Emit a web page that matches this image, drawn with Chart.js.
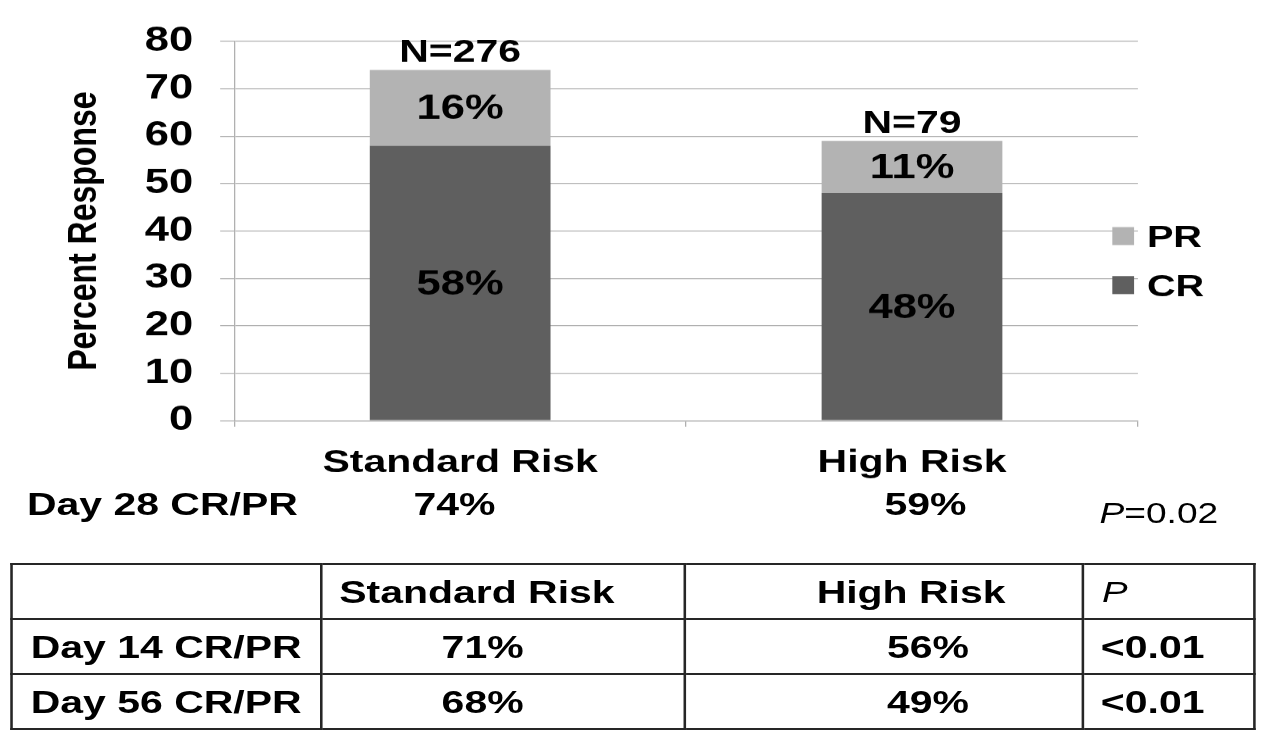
<!DOCTYPE html>
<html>
<head>
<meta charset="utf-8">
<title>Day 28 response by risk group</title>
<script src="https://cdn.jsdelivr.net/npm/chart.js@4.4.0/dist/chart.umd.min.js"></script>
<style>
  html, body { margin: 0; padding: 0; background: #fff; overflow: hidden; }
  /* the source figure is stretched sideways, so the whole stage is drawn 1000px wide and scaled */
  #stage {
    position: absolute; left: 0; top: 0; width: 1000px; height: 751px;
    transform: scaleX(1.28); transform-origin: 0 0;
    font-family: 'Liberation Sans', Arial, sans-serif; color: #000;
  }
  #chart { position: absolute; left: 0; top: 0; }
  .txt { position: absolute; font-size: 32px; font-weight: bold; line-height: 1; white-space: nowrap; }
  .center { transform: translateX(-50%); }
  .plain { font-weight: normal; font-size: 29px; }
  table {
    position: absolute; left: 8px; top: 563px;
    border-collapse: collapse; table-layout: fixed;
    font-size: 32px; font-weight: bold; line-height: 1;
  }
  td { border: 2px solid #262626; height: 53px; padding: 0; vertical-align: middle; white-space: nowrap; }
  td.p-head { font-weight: normal; font-style: italic; font-size: 30px; }
</style>
</head>
<body>
<div id="stage">
  <canvas id="chart" width="1000" height="751"></canvas>
  <div id="day28"></div>
  <table id="summary">
    <colgroup>
      <col style="width:242px"><col style="width:284px"><col style="width:311px"><col style="width:134px">
    </colgroup>
    <tbody></tbody>
  </table>
</div>
<script>
const categories = ['Standard Risk', 'High Risk'];
const crValues = [58, 48];
const prValues = [16, 11];
const nCounts = [276, 79];
const yTicks = [0, 10, 20, 30, 40, 50, 60, 70, 80];

const day28Label = 'Day 28 CR/PR';
const day28Values = [74, 59];
const day28P = '0.02';

const tableHeaders = ['', 'Standard Risk', 'High Risk', 'P'];
const tableRowLabels = ['Day 14 CR/PR', 'Day 56 CR/PR'];
const standardRiskRates = [71, 68];
const highRiskRates = [56, 49];
const tablePValues = ['<0.01', '<0.01'];

const FONT = "'Liberation Sans', Arial, sans-serif";
const GRID = '#b0b0b0';

// percentages inside each segment and N above each stack
const barLabels = {
  id: 'barLabels',
  afterDatasetsDraw(chart) {
    const ctx = chart.ctx;
    ctx.save();
    ctx.fillStyle = '#000';
    ctx.textAlign = 'center';
    chart.data.datasets.forEach((ds, i) => {
      chart.getDatasetMeta(i).data.forEach((bar, j) => {
        const { x, y, base } = bar.getProps(['x', 'y', 'base'], true);
        ctx.font = 'bold 34px ' + FONT;
        ctx.textBaseline = 'middle';
        ctx.fillText(ds.data[j] + '%', x, (y + base) / 2 + 2);
      });
    });
    const topMeta = chart.getDatasetMeta(chart.data.datasets.length - 1);
    topMeta.data.forEach((bar, j) => {
      ctx.font = 'bold 32px ' + FONT;
      ctx.textBaseline = 'alphabetic';
      ctx.fillText('N=' + nCounts[j], bar.x, bar.y - 8);
    });
    ctx.restore();
  }
};

// legend sits over the right end of the grid lines, PR above CR
const sideLegend = {
  id: 'sideLegend',
  afterDraw(chart) {
    const ctx = chart.ctx;
    const items = chart.data.datasets.slice().reverse();
    ctx.save();
    ctx.font = 'bold 31px ' + FONT;
    ctx.textAlign = 'left';
    ctx.textBaseline = 'alphabetic';
    items.forEach((ds, i) => {
      const top = 227 + i * 49;
      ctx.fillStyle = ds.backgroundColor;
      ctx.fillRect(869, top, 17, 18);
      ctx.fillStyle = '#000';
      ctx.fillText(ds.label, 896, top + 20);
    });
    ctx.restore();
  }
};

new Chart(document.getElementById('chart'), {
  type: 'bar',
  data: {
    labels: categories,
    datasets: [
      { label: 'CR', data: crValues, backgroundColor: '#5f5f5f', barPercentage: 0.4, categoryPercentage: 1 },
      { label: 'PR', data: prValues, backgroundColor: '#b3b3b3', barPercentage: 0.4, categoryPercentage: 1 }
    ]
  },
  options: {
    responsive: false,
    devicePixelRatio: 1.28,
    animation: false,
    events: [],
    layout: { padding: { left: 0, top: 39, right: 111, bottom: 270 } },
    plugins: { legend: { display: false }, tooltip: { enabled: false } },
    scales: {
      x: {
        stacked: true,
        ticks: { color: '#000', font: { family: FONT, size: 32, weight: 'bold' }, padding: 17 },
        grid: { drawOnChartArea: false, drawTicks: true, tickLength: 6, color: GRID, offset: true },
        border: { display: true, color: GRID },
        afterFit(scale) { scale.height = 60.5; }
      },
      y: {
        stacked: true,
        min: yTicks[0],
        max: yTicks[yTicks.length - 1],
        ticks: { stepSize: yTicks[1] - yTicks[0], color: '#000', font: { family: FONT, size: 34, weight: 'bold' }, padding: 21 },
        grid: { color: GRID, tickLength: 11 },
        border: { display: true, color: GRID },
        title: {
          display: true, text: 'Percent Response', color: '#000',
          font: { family: FONT, size: 32, weight: 'bold' }, padding: { top: 47, bottom: 0 }
        },
        afterFit(scale) { scale.width = 183; }
      }
    }
  },
  plugins: [barLabels, sideLegend]
});

// Day 28 row under the category labels
const day28 = document.getElementById('day28');
function addText(parent, html, left, top, cls) {
  const d = document.createElement('div');
  d.className = 'txt ' + (cls || '');
  d.style.left = left + 'px';
  d.style.top = top + 'px';
  d.innerHTML = html;
  parent.appendChild(d);
}
addText(day28, day28Label, 21, 488);
const day28Centers = [355, 723];
day28Values.forEach((v, i) => addText(day28, v + '%', day28Centers[i], 488, 'center'));
addText(day28, '<i>P</i>=' + day28P, 859, 499, 'plain');

// summary table
const tbody = document.querySelector('#summary tbody');
const headPad = [15, 13, 102, 14];
const cellPad = [14, 93, 157, 13];
function addRow(cells, pads, headerRow) {
  const tr = document.createElement('tr');
  cells.forEach((c, i) => {
    const td = document.createElement('td');
    td.textContent = c;
    td.style.paddingLeft = pads[i] + 'px';
    if (headerRow && i === 3) td.className = 'p-head';
    tr.appendChild(td);
  });
  tbody.appendChild(tr);
}
addRow(tableHeaders, headPad, true);
tableRowLabels.forEach((label, i) => {
  addRow([label, standardRiskRates[i] + '%', highRiskRates[i] + '%', tablePValues[i]], cellPad, false);
});
</script>
</body>
</html>
